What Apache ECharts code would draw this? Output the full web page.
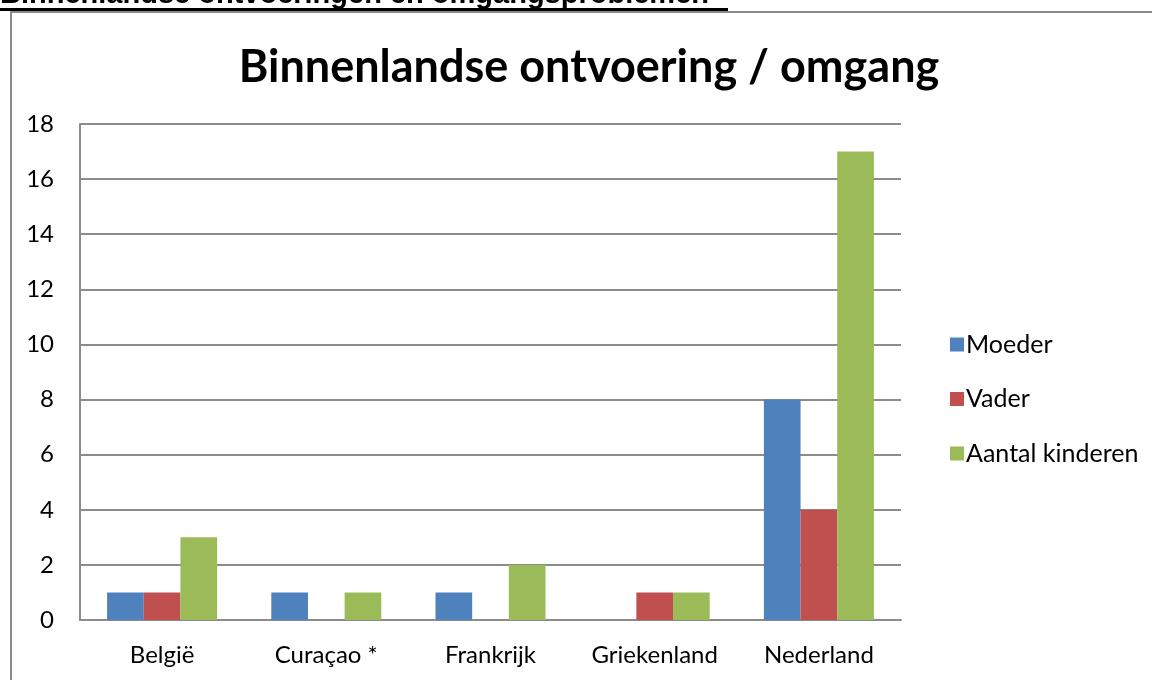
<!DOCTYPE html>
<html>
<head>
<meta charset="utf-8">
<script src="https://cdn.jsdelivr.net/npm/echarts@6/dist/echarts.min.js"></script>
<style>
  html, body { margin: 0; padding: 0; background: #fff; }
  #chart { width: 1152px; height: 680px; }
</style>
</head>
<body>
<div id="chart"></div>
<script>
const categories = ['België', 'Curaçao *', 'Frankrijk', 'Griekenland', 'Nederland'];
const moeder = [1, 1, 1, 0, 8];
const vader = [1, 0, 0, 1, 4];
const kinderen = [3, 1, 2, 1, 17];
const yTicks = { min: 0, max: 18, interval: 2 };

const fontFamily = 'Lato, Carlito, Calibri, sans-serif';
const gridColor = '#8c8c8c';

const chart = echarts.init(document.getElementById('chart'));

const bar = (name, values, color) => ({
  name,
  type: 'bar',
  data: values,
  barGap: '0%',
  barCategoryGap: '33%',
  itemStyle: { color },
});

chart.setOption({
  animation: false,
  title: {
    text: 'Binnenlandse ontvoering / omgang',
    left: 584,
    textAlign: 'center',
    top: 40,
    textStyle: { fontFamily, fontSize: 45, fontWeight: 'bold', color: '#000' },
  },
  graphic: [
    {
      type: 'text',
      left: 0,
      top: -20,
      style: {
        text: 'Binnenlandse ontvoeringen en omgangsproblemen',
        font: 'bold 29px "Liberation Sans", Arial, sans-serif',
        fill: '#000',
      },
    },
    { type: 'rect', shape: { x: 0, y: 8, width: 728, height: 3 }, style: { fill: '#000' } },
    { type: 'line', shape: { x1: 10, y1: 12, x2: 1152, y2: 12 }, style: { stroke: '#8a8a8a', lineWidth: 2 } },
    { type: 'line', shape: { x1: 11, y1: 12, x2: 11, y2: 680 }, style: { stroke: '#8a8a8a', lineWidth: 2 } },
  ],
  legend: {
    orient: 'vertical',
    left: 945,
    top: 327,
    itemWidth: 14,
    itemHeight: 14,
    itemGap: 29.5,
    icon: 'rect',
    textStyle: { fontFamily, fontSize: 25, color: '#000', padding: [0, 0, 0, -3] },
  },
  grid: { left: 80, right: 251, top: 124, bottom: 60 },
  xAxis: {
    type: 'category',
    data: categories,
    axisLine: { lineStyle: { color: gridColor, width: 2 } },
    axisTick: { show: false },
    axisLabel: { fontFamily, fontSize: 24, color: '#000', margin: 23, interval: 0 },
  },
  yAxis: {
    type: 'value',
    min: yTicks.min,
    max: yTicks.max,
    interval: yTicks.interval,
    axisLine: { show: true, lineStyle: { color: gridColor, width: 2 } },
    axisTick: { show: false },
    axisLabel: { fontFamily, fontSize: 24, color: '#000', margin: 26 },
    splitLine: { lineStyle: { color: gridColor, width: 2 } },
  },
  series: [
    bar('Moeder', moeder, '#4f81bd'),
    bar('Vader', vader, '#c0504d'),
    bar('Aantal kinderen', kinderen, '#9bbb59'),
  ],
});
</script>
</body>
</html>
